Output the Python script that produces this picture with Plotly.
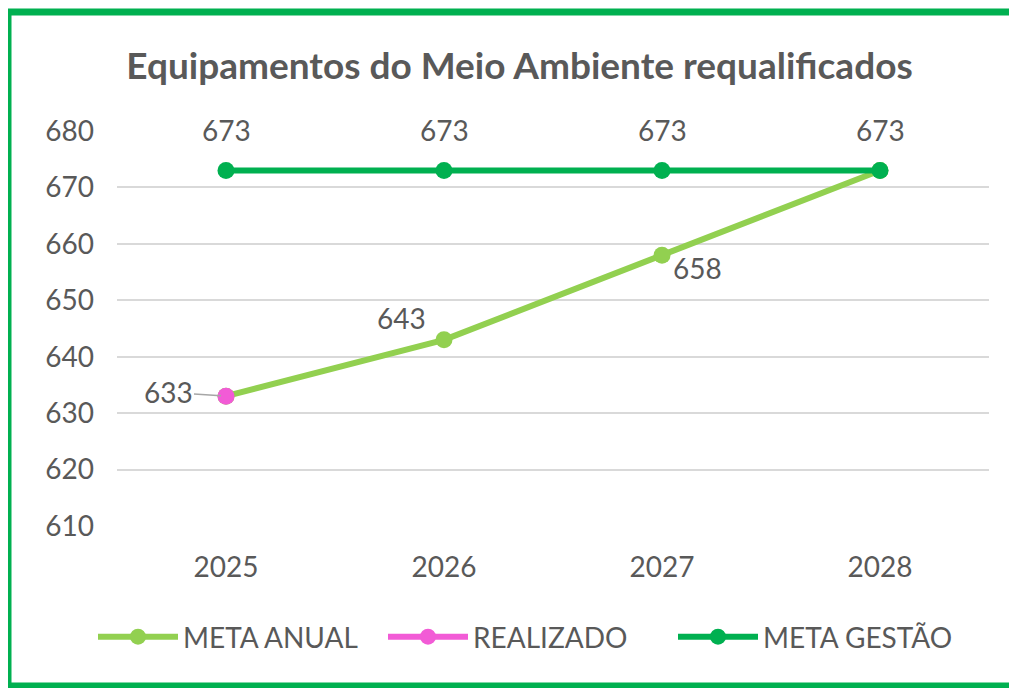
import plotly.graph_objects as go

years = ["2025", "2026", "2027", "2028"]
meta_anual = [633, 643, 658, 673]
realizado = [633, None, None, None]
meta_gestao = [673, 673, 673, 673]
y_ticks = [610, 620, 630, 640, 650, 660, 670, 680]

GRAY = "#595959"
FONT = "Lato"
# page body has an 8px margin, so the figure is laid out 8px smaller
W, H = 1009, 680
L, R, T, B = 109, 28, 123, 162
pw, ph = W - L - R, H - T - B

fig = go.Figure()
fig.add_trace(go.Scatter(x=years, y=meta_anual, name="META ANUAL", mode="lines+markers",
                         line=dict(color="#92D050", width=6), marker=dict(size=17, color="#92D050")))
fig.add_trace(go.Scatter(x=years, y=realizado, name="REALIZADO", mode="lines+markers",
                         line=dict(color="#F25BD6", width=6), marker=dict(size=17, color="#F25BD6")))
fig.add_trace(go.Scatter(x=years, y=meta_gestao, name="META GESTÃO", mode="lines+markers",
                         line=dict(color="#00B050", width=6), marker=dict(size=17, color="#00B050")))

lf = dict(size=28, color=GRAY, family=FONT)
annots = []
for i, v in enumerate(meta_gestao):
    annots.append(dict(x=i, y=v, xref="x", yref="y", text=str(v), showarrow=False, yshift=41, font=lf))
annots.append(dict(x=0, y=meta_anual[0], xref="x", yref="y", text=str(meta_anual[0]), showarrow=True,
                   arrowhead=0, arrowwidth=1.5, arrowcolor="#A6A6A6", ax=-58, ay=-4, standoff=5,
                   font=lf))
annots.append(dict(x=1, y=meta_anual[1], xref="x", yref="y", text=str(meta_anual[1]), showarrow=False,
                   xshift=-43, yshift=22, font=lf))
annots.append(dict(x=2, y=meta_anual[2], xref="x", yref="y", text=str(meta_anual[2]), showarrow=False,
                   xshift=35, yshift=-13, font=lf))

fig.update_layout(
    width=W, height=H,
    margin=dict(l=L, r=R, t=T, b=B, autoexpand=False),
    paper_bgcolor="white", plot_bgcolor="white",
    title=dict(text="<b>Equipamentos do Meio Ambiente requalificados</b>", xref="container",
               x=511.5 / W, xanchor="center", yref="container",
               y=1 - 58 / H, yanchor="middle", font=dict(size=37, color=GRAY, family=FONT)),
    xaxis=dict(type="category", range=[-0.5, 3.5], showgrid=False, zeroline=False, showline=False,
               tickfont=dict(size=28, color=GRAY, family=FONT), ticklabelstandoff=22),
    yaxis=dict(range=[610, 680], tickvals=y_ticks, showgrid=True, gridcolor="#D9D9D9", gridwidth=2,
               zeroline=False, showline=False, tickfont=dict(size=28, color=GRAY, family=FONT),
               ticklabelstandoff=22),
    legend=dict(orientation="h", x=(85 - L) / pw, xanchor="left",
                y=-(629 - (H - B)) / ph, yanchor="middle",
                font=dict(size=28, color=GRAY, family=FONT), itemwidth=80,
                entrywidthmode="pixels", entrywidth=195),
    annotations=annots,
    showlegend=True,
    shapes=[dict(type="rect", xref="paper", yref="paper",
                 x0=(0 - L) / pw, x1=(1040 - L) / pw,
                 y0=((H - B) - 678) / ph, y1=((H - B) - 4) / ph,
                 line=dict(color="#00B050", width=7), layer="above")],
)
fig.write_html("out.html")
